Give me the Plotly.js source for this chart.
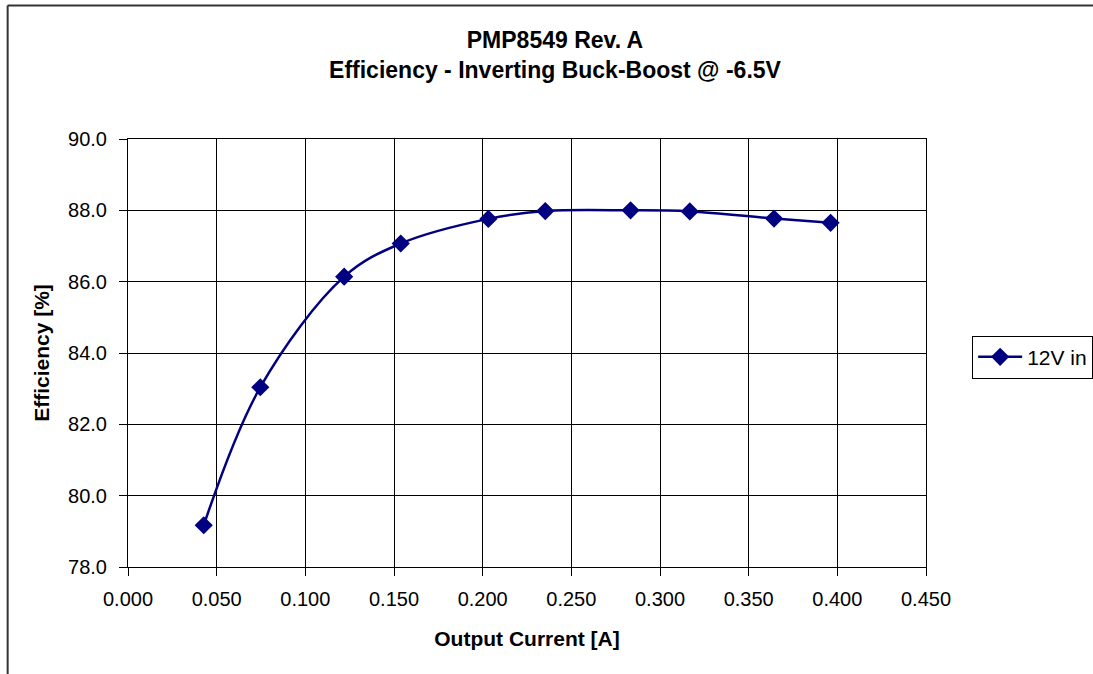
<!DOCTYPE html>
<html>
<head>
<meta charset="utf-8">
<script src="https://cdn.plot.ly/plotly-3.0.1.min.js"></script>
<style>html,body{margin:0;padding:0;background:#fff;}#chart{width:1093px;height:674px;}</style>
</head>
<body>
<div id="chart"></div>
<script>
// Data
const seriesName = "12V in";
const outputCurrent = [0.0427, 0.0746, 0.1219, 0.1538, 0.2032, 0.2353, 0.2834, 0.3168, 0.3643, 0.3962];
const efficiency = [79.17, 83.04, 86.14, 87.07, 87.76, 87.98, 88.00, 87.97, 87.77, 87.65];
const xTickVals = [0, 0.05, 0.1, 0.15, 0.2, 0.25, 0.3, 0.35, 0.4, 0.45];
const xTickText = ["0.000", "0.050", "0.100", "0.150", "0.200", "0.250", "0.300", "0.350", "0.400", "0.450"];
const yTickVals = [78, 80, 82, 84, 86, 88, 90];
const yTickText = ["78.0", "80.0", "82.0", "84.0", "86.0", "88.0", "90.0"];

const font = "Liberation Sans, Arial, sans-serif";
const W = 1093, H = 674;
const L = 127.5, R = 926.5, T = 138.7, B = 567.3;
const px = x => (x - L) / (R - L);
const py = y => (B - y) / (B - T);

const trace = {
  x: outputCurrent,
  y: efficiency,
  type: "scatter",
  mode: "lines+markers",
  name: seriesName,
  line: {color: "#000080", width: 2.5, shape: "spline", smoothing: 1},
  marker: {symbol: "diamond", size: 14, color: "#000080"}
};

const layout = {
  width: W, height: H,
  margin: {l: L, r: W - R, t: T, b: H - B, pad: 0, autoexpand: false},
  paper_bgcolor: "#fff",
  plot_bgcolor: "#fff",
  font: {family: font, color: "#000", size: 20},
  title: {
    text: "<b>PMP8549 Rev. A</b><br><b>Efficiency - Inverting Buck-Boost @ -6.5V</b>",
    font: {family: font, size: 23, color: "#000"},
    xref: "container", x: 555 / W, xanchor: "center",
    yref: "container", y: 1 - 48 / H, yanchor: "top"
  },
  xaxis: {
    range: [0, 0.45],
    tickvals: xTickVals, ticktext: xTickText,
    ticks: "outside", ticklen: 8, tickcolor: "#000", tickwidth: 1,
    ticklabelstandoff: 6,
    showgrid: true, gridcolor: "#000", gridwidth: 1,
    showline: true, linecolor: "#000", linewidth: 1, mirror: true,
    zeroline: false,
    tickfont: {family: font, size: 20, color: "#000"},
    title: {text: "<b>Output Current [A]</b>", font: {family: font, size: 21, color: "#000"}, standoff: 22}
  },
  yaxis: {
    range: [78, 90],
    tickvals: yTickVals, ticktext: yTickText,
    ticks: "outside", ticklen: 8, tickcolor: "#000", tickwidth: 1,
    ticklabelstandoff: 8,
    showgrid: true, gridcolor: "#000", gridwidth: 1,
    showline: true, linecolor: "#000", linewidth: 1, mirror: true,
    zeroline: false,
    tickfont: {family: font, size: 20, color: "#000"},
    title: {text: "<b>Efficiency [%]</b>", font: {family: font, size: 21, color: "#000"}, standoff: 12}
  },
  showlegend: true,
  legend: {
    x: px(972.7), y: py(335.7), xanchor: "left", yanchor: "top",
    bordercolor: "#000", borderwidth: 1, bgcolor: "#fff",
    font: {family: font, size: 21, color: "#000"},
    itemwidth: 44, tracegroupgap: 0
  },
  shapes: [
    {type: "line", xref: "paper", yref: "paper", x0: px(7), x1: px(1110), y0: py(5), y1: py(5), line: {color: "#333", width: 2}},
    {type: "line", xref: "paper", yref: "paper", x0: px(7), x1: px(7), y0: py(5), y1: py(700), line: {color: "#333", width: 2}}
  ]
};

Plotly.newPlot("chart", [trace], layout, {displayModeBar: false, staticPlot: true});
</script>
</body>
</html>
